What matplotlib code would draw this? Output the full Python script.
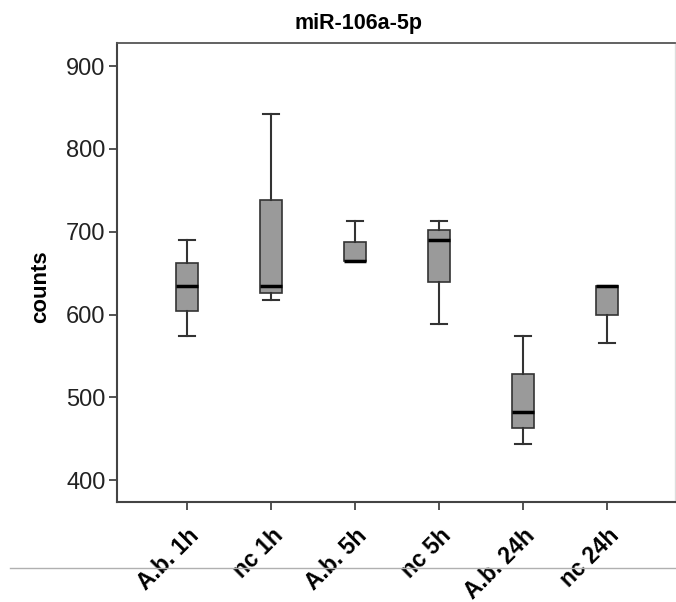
import matplotlib
matplotlib.use("Agg")
import matplotlib.pyplot as plt
from matplotlib.lines import Line2D

plt.rcParams['font.family'] = ['Liberation Sans', 'DejaVu Sans']

# -----------------------
# Data (box summaries per group)
# -----------------------
groups = ["A.b. 1h", "nc 1h", "A.b. 5h", "nc 5h", "A.b. 24h", "nc 24h"]
whis_hi = [690, 842, 713, 713, 574, 635]
q3 = [662, 738, 688, 702, 528, 635]
med = [635, 634, 665, 690, 482, 635]
q1 = [604, 626, 665, 639, 463, 600]
whis_lo = [574, 617, 665, 589, 444, 566]
yticks = [400, 500, 600, 700, 800, 900]

stats = [dict(label=g, whislo=lo, q1=a, med=m, q3=b, whishi=hi, fliers=[])
         for g, lo, a, m, b, hi in zip(groups, whis_lo, q1, med, q3, whis_hi)]

# -----------------------
# Figure
# -----------------------
fig = plt.figure(figsize=(6.76, 6.02), dpi=100)
ax = fig.add_axes([0.1726, 0.1661, 0.8252, 0.7619])

edge = "#333333"
ax.bxp(stats, positions=range(1, len(groups) + 1), widths=0.26,
       capwidths=0.19, patch_artist=True, showfliers=False,
       boxprops=dict(facecolor="#9a9a9a", edgecolor=edge, linewidth=1.2),
       whiskerprops=dict(color=edge, linewidth=1.5),
       capprops=dict(color=edge, linewidth=1.5),
       medianprops=dict(color="black", linewidth=2.5))

ax.set_xlim(0.163, 6.80)
ax.set_ylim(373.6, 927.6)
ax.set_yticks(yticks)
ax.set_yticklabels([str(v) for v in yticks], fontsize=17, color="#222222")
ax.set_xticks(range(1, len(groups) + 1))
ax.set_xticklabels(groups, rotation=45, ha="right", va="top",
                   rotation_mode="anchor", fontsize=16.5, fontweight="bold")
ax.tick_params(axis="both", direction="out", length=6, width=1.3,
               color="#444444", pad=2)
ax.tick_params(axis="x", pad=10)

for side in ["left", "bottom"]:
    ax.spines[side].set_color("#444444")
    ax.spines[side].set_linewidth(1.5)
ax.spines["top"].set_color("#555555")
ax.spines["top"].set_linewidth(1.3)
ax.spines["right"].set_color("#dddddd")
ax.spines["right"].set_linewidth(1.0)

ax.set_ylabel("counts", fontsize=16, fontweight="bold")
ax.yaxis.set_label_coords(-0.118, 0.47)
fig.text(358 / 676, 1 - 23 / 602, "miR-106a-5p", ha="center", va="center",
         fontsize=15.5, fontweight="bold")

# thin rule across the lower part of the figure
fig.add_artist(Line2D([10 / 676, 1.0], [1 - 568 / 602] * 2,
                      color="#b0b0b0", linewidth=1.0,
                      transform=fig.transFigure))

fig.savefig("out.png", dpi=100)
